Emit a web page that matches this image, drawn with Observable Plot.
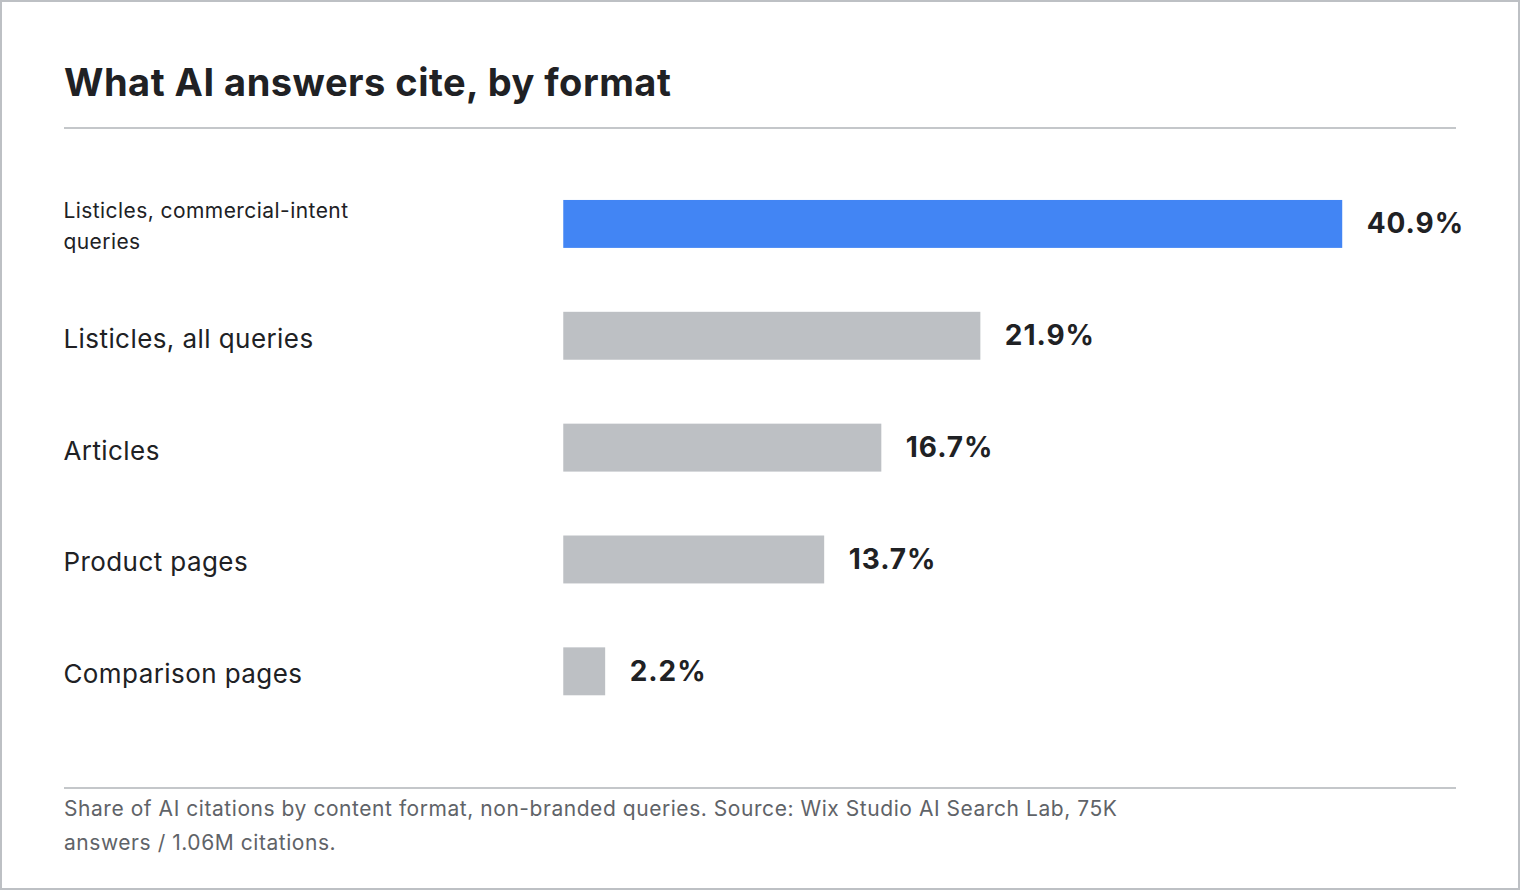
<!DOCTYPE html>
<html>
<head>
<meta charset="utf-8">
<script src="https://cdn.jsdelivr.net/npm/d3@7"></script>
<script src="https://cdn.jsdelivr.net/npm/@observablehq/plot@0.6"></script>
<style>
  html, body { margin: 0; padding: 0; background: #fff; }
  #card {
    position: relative;
    width: 1520px; height: 890px;
    box-sizing: border-box;
    border: 2px solid #bdc0c4;
    font-family: Inter, "Noto Sans", sans-serif;
    color: #202124;
    overflow: hidden;
  }
  #title {
    position: absolute; left: 62px; top: 56px;
    font-size: 38px; font-weight: 700; line-height: 48px;
    letter-spacing: 0.5px;
  }
  .rule { position: absolute; left: 62px; width: 1392px; height: 2px; background: #c4c7ca; }
  #chart { position: absolute; left: -2px; top: 166px; }
  #caption {
    position: absolute; left: 62px; top: 790px;
    font-size: 21px; line-height: 34px; color: #5f6368;
    letter-spacing: 0.55px;
  }
  #chart .pct text { letter-spacing: 1px; }
  #chart .cat text { letter-spacing: 0.45px; }
</style>
</head>
<body>
<div id="card">
  <div id="title">What AI answers cite, by format</div>
  <div class="rule" style="top:125px"></div>
  <div id="chart"></div>
  <div class="rule" style="top:785px"></div>
  <div id="caption">Share of AI citations by content format, non-branded queries. Source: Wix Studio AI Search Lab, 75K<br>answers / 1.06M citations.</div>
</div>
<script>
// Share of AI citations by content format (%)
const formats = [
  "Listicles, commercial-intent\nqueries",
  "Listicles, all queries",
  "Articles",
  "Product pages",
  "Comparison pages"
];
const shares = [40.9, 21.9, 16.7, 13.7, 2.2];
const highlighted = "Listicles, commercial-intent\nqueries";

const rows = formats.map((label, i) => ({label, value: shares[i]}));

const chart = Plot.plot({
  width: 1520,
  height: 560,
  marginLeft: 564,
  marginRight: 176,
  marginTop: 0,
  marginBottom: 0,
  style: {fontFamily: 'Inter, "Noto Sans", sans-serif', color: "#202124", background: "transparent"},
  x: {domain: [0, d3.max(shares)], axis: null},
  y: {domain: formats, padding: 0, axis: null},
  marks: [
    Plot.barX(rows, {
      x: "value",
      y: "label",
      insetTop: 32,
      insetBottom: 32,
      fill: d => d.label === highlighted ? "#4285f4" : "#bdc0c4"
    }),
    Plot.text(rows, {
      x: "value",
      y: "label",
      text: d => `${d.value.toFixed(1)}%`,
      textAnchor: "start",
      dx: 24,
      fontSize: 28,
      fontWeight: 700,
      fill: "#202124",
      className: "pct"
    }),
    Plot.text(rows, {
      y: "label",
      text: "label",
      frameAnchor: "left",
      textAnchor: "start",
      dx: -501,
      dy: -1,
      lineHeight: 1.5,
      fontSize: d => d.label.includes("\n") ? 21 : 26,
      fill: "#202124",
      className: "cat"
    })
  ]
});
document.getElementById("chart").appendChild(chart);
</script>
</body>
</html>
